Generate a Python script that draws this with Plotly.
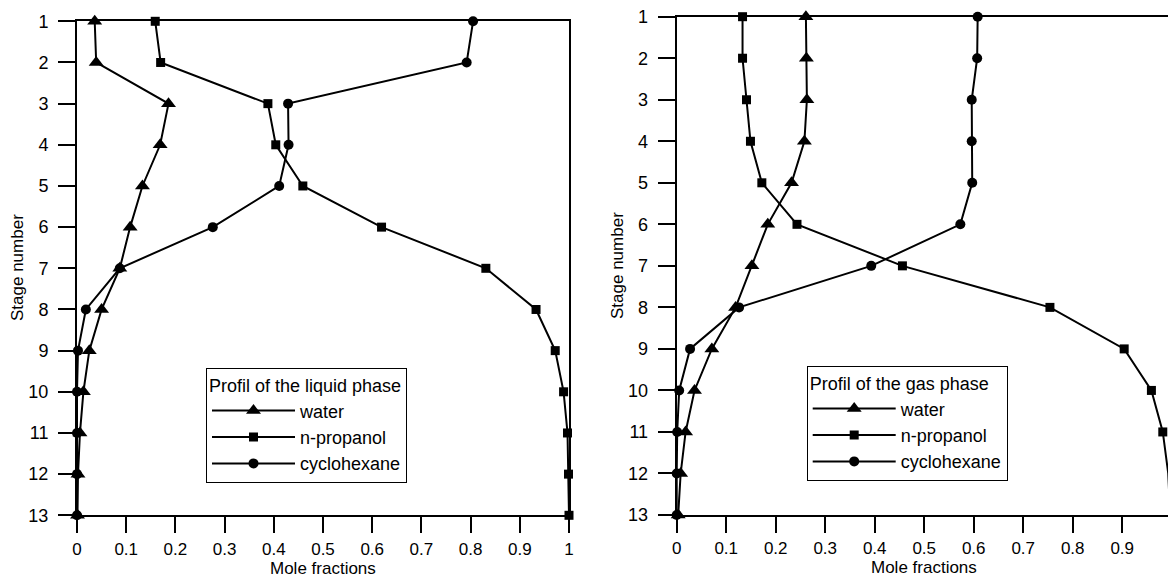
import plotly.graph_objects as go

W, H = 1168, 577

stages = list(range(1, 14))
stage_ticks = [str(s) for s in stages]

# Liquid phase profile (left panel)
liq_water = [0.036, 0.039, 0.186, 0.169, 0.133, 0.108, 0.087, 0.050, 0.025, 0.013, 0.006, 0.002, 0.001]
liq_propanol = [0.159, 0.170, 0.388, 0.404, 0.459, 0.619, 0.831, 0.933, 0.972, 0.989, 0.997, 0.999, 1.000]
liq_cyclohexane = [0.805, 0.792, 0.429, 0.430, 0.411, 0.276, 0.087, 0.018, 0.002, 0.0, 0.0, 0.0, 0.0]

# Gas phase profile (right panel)
gas_water = [0.261, 0.262, 0.263, 0.258, 0.232, 0.184, 0.152, 0.119, 0.071, 0.036, 0.018, 0.008, 0.003]
gas_propanol = [0.133, 0.133, 0.141, 0.149, 0.172, 0.243, 0.456, 0.754, 0.904, 0.959, 0.982, 0.993, 0.997]
gas_cyclohexane = [0.608, 0.607, 0.596, 0.596, 0.597, 0.573, 0.393, 0.126, 0.027, 0.005, 0.001, 0.0, 0.0]

x_ticks = [0, 0.1, 0.2, 0.3, 0.4, 0.5, 0.6, 0.7, 0.8, 0.9, 1]
x_tick_labels = ["0", "0.1", "0.2", "0.3", "0.4", "0.5", "0.6", "0.7", "0.8", "0.9", "1"]

FONT = "Arial, Liberation Sans, sans-serif"


def px_x(p):
    return p / W


def px_y(p):
    return (H - p) / H


fig = go.Figure()

series = [
    ("water", "triangle-up", 13),
    ("n-propanol", "square", 9),
    ("cyclohexane", "circle", 10),
]

for (name, sym, size), vals in zip(series, [liq_water, liq_propanol, liq_cyclohexane]):
    fig.add_trace(go.Scatter(
        x=vals, y=stages, mode="lines+markers", name=name,
        line=dict(color="black", width=2),
        marker=dict(symbol=sym, size=size, color="black"),
        xaxis="x", yaxis="y", legend="legend",
        cliponaxis=False,
    ))

for (name, sym, size), vals in zip(series, [gas_water, gas_propanol, gas_cyclohexane]):
    fig.add_trace(go.Scatter(
        x=vals, y=stages, mode="lines+markers", name=name,
        line=dict(color="black", width=2),
        marker=dict(symbol=sym, size=size, color="black"),
        xaxis="x2", yaxis="y2", legend="legend2",
        cliponaxis=False,
    ))

# Right panel: x = 0 at 676.7 px, 495 px per unit; plot is cut by the window edge
x2_right = (W - 676.7) / 495.0

axis_common = dict(
    showline=True, linecolor="black", linewidth=2,
    ticks="outside", tickwidth=2, tickcolor="black",
    showgrid=False, zeroline=False, automargin=False,
)

legend_common = dict(
    xanchor="left", yanchor="top",
    bgcolor="white", bordercolor="black", borderwidth=1,
    font=dict(size=18), tracegroupgap=0, itemwidth=83,
)

title_common = dict(xref="paper", yref="paper", showarrow=False,
                    xanchor="center", yanchor="middle", font=dict(size=17))

xtickfont = dict(family=FONT, size=17, color="black")
ytickfont = dict(family=FONT, size=18, color="black")

fig.update_layout(
    width=W, height=H,
    margin=dict(l=0, r=0, t=0, b=0, pad=0, autoexpand=False),
    paper_bgcolor="white", plot_bgcolor="white",
    font=dict(family=FONT, size=18, color="black"),
    xaxis=dict(domain=[px_x(77), px_x(569)], range=[0, 1], anchor="y",
               tickvals=x_ticks, ticktext=x_tick_labels, mirror=True,
               ticklen=16, ticklabelstandoff=1, tickfont=xtickfont, **axis_common),
    yaxis=dict(domain=[px_y(515.3), px_y(21.3)], range=[13, 1], anchor="x",
               tickvals=stages, ticktext=stage_ticks, mirror=True,
               ticklen=17, ticklabelstandoff=6, tickfont=ytickfont, **axis_common),
    xaxis2=dict(domain=[px_x(676.7), 1.0], range=[0, x2_right], anchor="y2",
                tickvals=x_ticks, ticktext=x_tick_labels, mirror=True,
                ticklen=16, ticklabelstandoff=1, tickfont=xtickfont, **axis_common),
    yaxis2=dict(domain=[px_y(515), px_y(16.7)], range=[13, 1], anchor="x2",
                tickvals=stages, ticktext=stage_ticks, mirror=False,
                ticklen=17, ticklabelstandoff=6, tickfont=ytickfont, **axis_common),
    legend=dict(x=px_x(206), y=px_y(368),
                title=dict(text="Profil of the liquid phase", font=dict(size=18)),
                **legend_common),
    legend2=dict(x=px_x(806.7), y=px_y(366),
                 title=dict(text="Profil of the gas phase", font=dict(size=18)),
                 **legend_common),
    annotations=[
        dict(text="Mole fractions", x=px_x(323), y=px_y(568), **title_common),
        dict(text="Mole fractions", x=px_x(924), y=px_y(567.5), **title_common),
        dict(text="Stage number", x=px_x(17), y=px_y(268), textangle=-90, **title_common),
        dict(text="Stage number", x=px_x(617), y=px_y(266), textangle=-90, **title_common),
    ],
    showlegend=True,
)

fig.write_html(
    "out.html",
    config={"displayModeBar": False},
    post_script="document.body.style.margin='0';document.body.style.overflow='hidden';",
)
